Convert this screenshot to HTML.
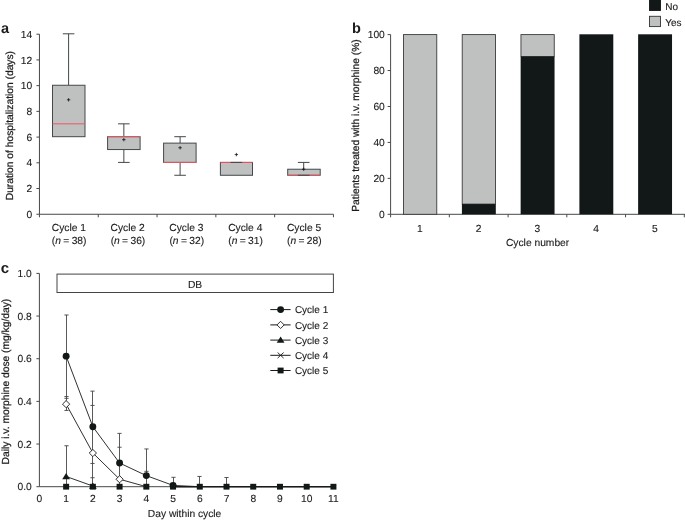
<!DOCTYPE html><html><head><meta charset="utf-8"><style>
html,body{margin:0;padding:0;background:#fff;overflow:hidden;}
svg{position:absolute;left:0;top:0;display:block;font-family:"Liberation Sans",sans-serif;text-rendering:geometricPrecision;will-change:transform;filter:opacity(1);}
</style></head><body>
<svg width="685" height="522" viewBox="0 0 685 522">
<rect width="685" height="522" fill="#fff"/>
<g font-size="10.25" fill="#1c1c1c">
<text x="0.9" y="32.9" font-size="14.5" font-weight="bold">a</text>
<line x1="39.45" y1="34.21" x2="39.45" y2="214.25" stroke="#45494b" stroke-width="1"/>
<line x1="39.45" y1="214.25" x2="333.45" y2="214.25" stroke="#45494b" stroke-width="1"/>
<line x1="36.45" y1="214.25" x2="39.45" y2="214.25" stroke="#45494b" stroke-width="1"/>
<text x="32.15" y="217.85" text-anchor="end" stroke="#1c1c1c" stroke-width="0.12" >0</text>
<line x1="36.45" y1="188.53" x2="39.45" y2="188.53" stroke="#45494b" stroke-width="1"/>
<text x="32.15" y="192.13" text-anchor="end" stroke="#1c1c1c" stroke-width="0.12" >2</text>
<line x1="36.45" y1="162.81" x2="39.45" y2="162.81" stroke="#45494b" stroke-width="1"/>
<text x="32.15" y="166.41" text-anchor="end" stroke="#1c1c1c" stroke-width="0.12" >4</text>
<line x1="36.45" y1="137.09" x2="39.45" y2="137.09" stroke="#45494b" stroke-width="1"/>
<text x="32.15" y="140.69" text-anchor="end" stroke="#1c1c1c" stroke-width="0.12" >6</text>
<line x1="36.45" y1="111.37" x2="39.45" y2="111.37" stroke="#45494b" stroke-width="1"/>
<text x="32.15" y="114.97" text-anchor="end" stroke="#1c1c1c" stroke-width="0.12" >8</text>
<line x1="36.45" y1="85.65" x2="39.45" y2="85.65" stroke="#45494b" stroke-width="1"/>
<text x="32.15" y="89.25" text-anchor="end" stroke="#1c1c1c" stroke-width="0.12" >10</text>
<line x1="36.45" y1="59.93" x2="39.45" y2="59.93" stroke="#45494b" stroke-width="1"/>
<text x="32.15" y="63.53" text-anchor="end" stroke="#1c1c1c" stroke-width="0.12" >12</text>
<line x1="36.45" y1="34.21" x2="39.45" y2="34.21" stroke="#45494b" stroke-width="1"/>
<text x="32.15" y="37.81" text-anchor="end" stroke="#1c1c1c" stroke-width="0.12" >14</text>
<line x1="39.45" y1="214.25" x2="39.45" y2="217.25" stroke="#45494b" stroke-width="1"/>
<line x1="98.25" y1="214.25" x2="98.25" y2="217.25" stroke="#45494b" stroke-width="1"/>
<line x1="157.05" y1="214.25" x2="157.05" y2="217.25" stroke="#45494b" stroke-width="1"/>
<line x1="215.85" y1="214.25" x2="215.85" y2="217.25" stroke="#45494b" stroke-width="1"/>
<line x1="274.65" y1="214.25" x2="274.65" y2="217.25" stroke="#45494b" stroke-width="1"/>
<line x1="333.45" y1="214.25" x2="333.45" y2="217.25" stroke="#45494b" stroke-width="1"/>
<text x="68.85" y="231.40" text-anchor="middle" stroke="#1c1c1c" stroke-width="0.12" >Cycle 1</text>
<text x="69.15" y="244.20" text-anchor="middle" stroke="#1c1c1c" stroke-width="0.12" word-spacing="-0.5">(<tspan font-style="italic">n</tspan> = 38)</text>
<text x="127.65" y="231.40" text-anchor="middle" stroke="#1c1c1c" stroke-width="0.12" >Cycle 2</text>
<text x="127.95" y="244.20" text-anchor="middle" stroke="#1c1c1c" stroke-width="0.12" word-spacing="-0.5">(<tspan font-style="italic">n</tspan> = 36)</text>
<text x="186.45" y="231.40" text-anchor="middle" stroke="#1c1c1c" stroke-width="0.12" >Cycle 3</text>
<text x="186.75" y="244.20" text-anchor="middle" stroke="#1c1c1c" stroke-width="0.12" word-spacing="-0.5">(<tspan font-style="italic">n</tspan> = 32)</text>
<text x="245.25" y="231.40" text-anchor="middle" stroke="#1c1c1c" stroke-width="0.12" >Cycle 4</text>
<text x="245.55" y="244.20" text-anchor="middle" stroke="#1c1c1c" stroke-width="0.12" word-spacing="-0.5">(<tspan font-style="italic">n</tspan> = 31)</text>
<text x="304.05" y="231.40" text-anchor="middle" stroke="#1c1c1c" stroke-width="0.12" >Cycle 5</text>
<text x="304.35" y="244.20" text-anchor="middle" stroke="#1c1c1c" stroke-width="0.12" word-spacing="-0.5">(<tspan font-style="italic">n</tspan> = 28)</text>
<text transform="translate(13.00,125.60) rotate(-90)" text-anchor="middle" stroke="#1c1c1c" stroke-width="0.25">Duration of hospitalization (days)</text>
<line x1="68.60" y1="33.81" x2="68.60" y2="85.25" stroke="#44484a" stroke-width="1"/>
<line x1="62.80" y1="33.81" x2="74.40" y2="33.81" stroke="#44484a" stroke-width="1"/>
<rect x="52.50" y="85.25" width="32.50" height="51.44" fill="#bfc1c0" stroke="#44484a" stroke-width="1"/>
<line x1="52.50" y1="123.83" x2="85.00" y2="123.83" stroke="#ee5560" stroke-width="1"/>
<line x1="66.90" y1="99.80" x2="70.30" y2="99.80" stroke="#111" stroke-width="0.8"/>
<line x1="68.60" y1="98.10" x2="68.60" y2="101.50" stroke="#111" stroke-width="0.8"/>
<line x1="123.85" y1="123.83" x2="123.85" y2="136.69" stroke="#44484a" stroke-width="1"/>
<line x1="118.05" y1="123.83" x2="129.65" y2="123.83" stroke="#44484a" stroke-width="1"/>
<line x1="123.85" y1="162.41" x2="123.85" y2="149.55" stroke="#44484a" stroke-width="1"/>
<line x1="118.05" y1="162.41" x2="129.65" y2="162.41" stroke="#44484a" stroke-width="1"/>
<rect x="107.60" y="136.69" width="32.50" height="12.86" fill="#bfc1c0" stroke="#44484a" stroke-width="1"/>
<line x1="107.60" y1="136.69" x2="140.10" y2="136.69" stroke="#ee5560" stroke-width="1"/>
<line x1="122.15" y1="139.66" x2="125.55" y2="139.66" stroke="#111" stroke-width="0.8"/>
<line x1="123.85" y1="137.96" x2="123.85" y2="141.36" stroke="#111" stroke-width="0.8"/>
<line x1="180.10" y1="136.69" x2="180.10" y2="143.12" stroke="#44484a" stroke-width="1"/>
<line x1="174.30" y1="136.69" x2="185.90" y2="136.69" stroke="#44484a" stroke-width="1"/>
<line x1="180.10" y1="175.27" x2="180.10" y2="162.41" stroke="#44484a" stroke-width="1"/>
<line x1="174.30" y1="175.27" x2="185.90" y2="175.27" stroke="#44484a" stroke-width="1"/>
<rect x="163.60" y="143.12" width="32.50" height="19.29" fill="#bfc1c0" stroke="#44484a" stroke-width="1"/>
<line x1="163.60" y1="162.41" x2="196.10" y2="162.41" stroke="#ee5560" stroke-width="1"/>
<line x1="178.40" y1="147.76" x2="181.80" y2="147.76" stroke="#111" stroke-width="0.8"/>
<line x1="180.10" y1="146.06" x2="180.10" y2="149.46" stroke="#111" stroke-width="0.8"/>
<rect x="220.40" y="162.41" width="32.10" height="12.86" fill="#bfc1c0" stroke="#44484a" stroke-width="1"/>
<line x1="220.40" y1="162.41" x2="252.50" y2="162.41" stroke="#ee5560" stroke-width="1"/>
<line x1="230.60" y1="162.41" x2="242.20" y2="162.41" stroke="#44484a" stroke-width="1"/>
<line x1="234.70" y1="154.58" x2="238.10" y2="154.58" stroke="#111" stroke-width="0.8"/>
<line x1="236.40" y1="152.88" x2="236.40" y2="156.28" stroke="#111" stroke-width="0.8"/>
<line x1="303.70" y1="162.41" x2="303.70" y2="169.23" stroke="#44484a" stroke-width="1"/>
<line x1="297.90" y1="162.41" x2="309.50" y2="162.41" stroke="#44484a" stroke-width="1"/>
<rect x="287.70" y="169.23" width="32.50" height="6.04" fill="#bfc1c0" stroke="#44484a" stroke-width="1"/>
<line x1="287.70" y1="175.27" x2="320.20" y2="175.27" stroke="#ee5560" stroke-width="1"/>
<line x1="297.90" y1="175.27" x2="309.50" y2="175.27" stroke="#44484a" stroke-width="1"/>
<line x1="302.00" y1="169.24" x2="305.40" y2="169.24" stroke="#111" stroke-width="0.8"/>
<line x1="303.70" y1="167.54" x2="303.70" y2="170.94" stroke="#111" stroke-width="0.8"/>
<text x="351.9" y="32.9" font-size="14.5" font-weight="bold">b</text>
<line x1="390.60" y1="34.60" x2="390.60" y2="214.30" stroke="#45494b" stroke-width="1"/>
<line x1="390.60" y1="214.30" x2="685.00" y2="214.30" stroke="#45494b" stroke-width="1"/>
<line x1="387.60" y1="214.30" x2="390.60" y2="214.30" stroke="#45494b" stroke-width="1"/>
<text x="384.80" y="217.70" text-anchor="end" stroke="#1c1c1c" stroke-width="0.12" >0</text>
<line x1="387.60" y1="178.36" x2="390.60" y2="178.36" stroke="#45494b" stroke-width="1"/>
<text x="384.80" y="181.76" text-anchor="end" stroke="#1c1c1c" stroke-width="0.12" >20</text>
<line x1="387.60" y1="142.42" x2="390.60" y2="142.42" stroke="#45494b" stroke-width="1"/>
<text x="384.80" y="145.82" text-anchor="end" stroke="#1c1c1c" stroke-width="0.12" >40</text>
<line x1="387.60" y1="106.48" x2="390.60" y2="106.48" stroke="#45494b" stroke-width="1"/>
<text x="384.80" y="109.88" text-anchor="end" stroke="#1c1c1c" stroke-width="0.12" >60</text>
<line x1="387.60" y1="70.54" x2="390.60" y2="70.54" stroke="#45494b" stroke-width="1"/>
<text x="384.80" y="73.94" text-anchor="end" stroke="#1c1c1c" stroke-width="0.12" >80</text>
<line x1="387.60" y1="34.60" x2="390.60" y2="34.60" stroke="#45494b" stroke-width="1"/>
<text x="384.80" y="38.00" text-anchor="end" stroke="#1c1c1c" stroke-width="0.12" >100</text>
<line x1="390.60" y1="214.30" x2="390.60" y2="217.30" stroke="#45494b" stroke-width="1"/>
<line x1="449.34" y1="214.30" x2="449.34" y2="217.30" stroke="#45494b" stroke-width="1"/>
<line x1="508.08" y1="214.30" x2="508.08" y2="217.30" stroke="#45494b" stroke-width="1"/>
<line x1="566.82" y1="214.30" x2="566.82" y2="217.30" stroke="#45494b" stroke-width="1"/>
<line x1="625.56" y1="214.30" x2="625.56" y2="217.30" stroke="#45494b" stroke-width="1"/>
<line x1="684.30" y1="214.30" x2="684.30" y2="217.30" stroke="#45494b" stroke-width="1"/>
<rect x="403.47" y="34.60" width="33.3" height="179.70" fill="#bfc1c0" stroke="#3a3a3a" stroke-width="0.9"/>
<text x="419.97" y="231.60" text-anchor="middle" stroke="#1c1c1c" stroke-width="0.12" >1</text>
<rect x="462.21" y="34.60" width="33.3" height="169.46" fill="#bfc1c0" stroke="#3a3a3a" stroke-width="0.9"/>
<rect x="461.91" y="204.06" width="33.90" height="10.24" fill="#121817"/>
<text x="478.71" y="231.60" text-anchor="middle" stroke="#1c1c1c" stroke-width="0.12" >2</text>
<rect x="520.95" y="34.60" width="33.3" height="21.92" fill="#bfc1c0" stroke="#3a3a3a" stroke-width="0.9"/>
<rect x="520.65" y="56.52" width="33.90" height="157.78" fill="#121817"/>
<text x="537.45" y="231.60" text-anchor="middle" stroke="#1c1c1c" stroke-width="0.12" >3</text>
<rect x="579.39" y="34.30" width="33.90" height="180.00" fill="#121817"/>
<text x="596.19" y="231.60" text-anchor="middle" stroke="#1c1c1c" stroke-width="0.12" >4</text>
<rect x="638.13" y="34.30" width="33.90" height="180.00" fill="#121817"/>
<text x="654.93" y="231.60" text-anchor="middle" stroke="#1c1c1c" stroke-width="0.12" >5</text>
<text x="537.60" y="246.20" text-anchor="middle" stroke="#1c1c1c" stroke-width="0.12" >Cycle number</text>
<text transform="translate(359.30,125.50) rotate(-90)" text-anchor="middle" stroke="#1c1c1c" stroke-width="0.25">Patients treated with i.v. morphine (%)</text>
<rect x="649.5" y="-0.5" width="11" height="11" fill="#121817" stroke="#121817" stroke-width="0.9"/>
<rect x="649.5" y="16.3" width="11" height="10.3" fill="#bfc1c0" stroke="#333" stroke-width="0.9"/>
<text x="665.20" y="9.90" text-anchor="start" stroke="#1c1c1c" stroke-width="0.12" font-size="10">No</text>
<text x="665.20" y="25.90" text-anchor="start" stroke="#1c1c1c" stroke-width="0.12" font-size="10">Yes</text>
<text x="0.8" y="273.4" font-size="15" font-weight="bold">c</text>
<line x1="39.40" y1="273.40" x2="39.40" y2="486.70" stroke="#45494b" stroke-width="1"/>
<line x1="39.40" y1="486.70" x2="333.43" y2="486.70" stroke="#45494b" stroke-width="1"/>
<line x1="36.40" y1="486.70" x2="39.40" y2="486.70" stroke="#45494b" stroke-width="1"/>
<text x="31.70" y="490.40" text-anchor="end" stroke="#1c1c1c" stroke-width="0.12" >0.0</text>
<line x1="36.40" y1="444.04" x2="39.40" y2="444.04" stroke="#45494b" stroke-width="1"/>
<text x="31.70" y="447.74" text-anchor="end" stroke="#1c1c1c" stroke-width="0.12" >0.2</text>
<line x1="36.40" y1="401.38" x2="39.40" y2="401.38" stroke="#45494b" stroke-width="1"/>
<text x="31.70" y="405.08" text-anchor="end" stroke="#1c1c1c" stroke-width="0.12" >0.4</text>
<line x1="36.40" y1="358.72" x2="39.40" y2="358.72" stroke="#45494b" stroke-width="1"/>
<text x="31.70" y="362.42" text-anchor="end" stroke="#1c1c1c" stroke-width="0.12" >0.6</text>
<line x1="36.40" y1="316.06" x2="39.40" y2="316.06" stroke="#45494b" stroke-width="1"/>
<text x="31.70" y="319.76" text-anchor="end" stroke="#1c1c1c" stroke-width="0.12" >0.8</text>
<line x1="36.40" y1="273.40" x2="39.40" y2="273.40" stroke="#45494b" stroke-width="1"/>
<text x="31.70" y="277.10" text-anchor="end" stroke="#1c1c1c" stroke-width="0.12" >1.0</text>
<text x="39.40" y="502.30" text-anchor="middle" stroke="#1c1c1c" stroke-width="0.12" >0</text>
<text x="66.13" y="502.30" text-anchor="middle" stroke="#1c1c1c" stroke-width="0.12" >1</text>
<text x="92.86" y="502.30" text-anchor="middle" stroke="#1c1c1c" stroke-width="0.12" >2</text>
<text x="119.59" y="502.30" text-anchor="middle" stroke="#1c1c1c" stroke-width="0.12" >3</text>
<text x="146.32" y="502.30" text-anchor="middle" stroke="#1c1c1c" stroke-width="0.12" >4</text>
<text x="173.05" y="502.30" text-anchor="middle" stroke="#1c1c1c" stroke-width="0.12" >5</text>
<text x="199.78" y="502.30" text-anchor="middle" stroke="#1c1c1c" stroke-width="0.12" >6</text>
<text x="226.51" y="502.30" text-anchor="middle" stroke="#1c1c1c" stroke-width="0.12" >7</text>
<text x="253.24" y="502.30" text-anchor="middle" stroke="#1c1c1c" stroke-width="0.12" >8</text>
<text x="279.97" y="502.30" text-anchor="middle" stroke="#1c1c1c" stroke-width="0.12" >9</text>
<text x="306.70" y="502.30" text-anchor="middle" stroke="#1c1c1c" stroke-width="0.12" >10</text>
<text x="333.43" y="502.30" text-anchor="middle" stroke="#1c1c1c" stroke-width="0.12" >11</text>
<text x="184.60" y="516.80" text-anchor="middle" stroke="#1c1c1c" stroke-width="0.12" >Day within cycle</text>
<text transform="translate(8.80,381.60) rotate(-90)" text-anchor="middle" stroke="#1c1c1c" stroke-width="0.25">Daily i.v. morphine dose (mg/kg/day)</text>
<rect x="57.0" y="274.1" width="276.4" height="18.4" fill="#fff" stroke="#444" stroke-width="1"/>
<text x="195.10" y="287.80" text-anchor="middle" stroke="#1c1c1c" stroke-width="0.12" >DB</text>
<line x1="66.50" y1="410.45" x2="66.50" y2="314.99" stroke="#5a5a5a" stroke-width="1"/>
<line x1="64.40" y1="410.45" x2="68.60" y2="410.45" stroke="#444" stroke-width="0.9"/>
<line x1="64.40" y1="398.33" x2="68.60" y2="398.33" stroke="#444" stroke-width="0.9"/>
<line x1="64.40" y1="396.54" x2="68.60" y2="396.54" stroke="#444" stroke-width="0.9"/>
<line x1="64.40" y1="314.99" x2="68.60" y2="314.99" stroke="#444" stroke-width="0.9"/>
<line x1="66.50" y1="486.70" x2="66.50" y2="445.75" stroke="#5a5a5a" stroke-width="1"/>
<line x1="64.40" y1="445.75" x2="68.60" y2="445.75" stroke="#444" stroke-width="0.9"/>
<line x1="92.50" y1="486.70" x2="92.50" y2="391.14" stroke="#5a5a5a" stroke-width="1"/>
<line x1="90.40" y1="391.14" x2="94.60" y2="391.14" stroke="#444" stroke-width="0.9"/>
<line x1="90.40" y1="405.43" x2="94.60" y2="405.43" stroke="#444" stroke-width="0.9"/>
<line x1="90.40" y1="463.45" x2="94.60" y2="463.45" stroke="#444" stroke-width="0.9"/>
<line x1="90.40" y1="477.74" x2="94.60" y2="477.74" stroke="#444" stroke-width="0.9"/>
<line x1="119.50" y1="486.70" x2="119.50" y2="433.38" stroke="#5a5a5a" stroke-width="1"/>
<line x1="117.40" y1="433.38" x2="121.60" y2="433.38" stroke="#444" stroke-width="0.9"/>
<line x1="117.40" y1="447.24" x2="121.60" y2="447.24" stroke="#444" stroke-width="0.9"/>
<line x1="146.50" y1="486.70" x2="146.50" y2="448.95" stroke="#5a5a5a" stroke-width="1"/>
<line x1="144.40" y1="448.95" x2="148.60" y2="448.95" stroke="#444" stroke-width="0.9"/>
<line x1="144.40" y1="471.34" x2="148.60" y2="471.34" stroke="#444" stroke-width="0.9"/>
<line x1="173.50" y1="486.70" x2="173.50" y2="477.31" stroke="#5a5a5a" stroke-width="1"/>
<line x1="171.40" y1="477.31" x2="175.60" y2="477.31" stroke="#444" stroke-width="0.9"/>
<line x1="199.50" y1="486.70" x2="199.50" y2="476.46" stroke="#5a5a5a" stroke-width="1"/>
<line x1="197.40" y1="476.46" x2="201.60" y2="476.46" stroke="#444" stroke-width="0.9"/>
<line x1="226.50" y1="486.70" x2="226.50" y2="477.53" stroke="#5a5a5a" stroke-width="1"/>
<line x1="224.40" y1="477.53" x2="228.60" y2="477.53" stroke="#444" stroke-width="0.9"/>
<polyline points="66.13,356.16 92.86,426.76 119.59,463.02 146.32,475.61 173.05,485.42 199.78,486.70" fill="none" stroke="#1a1a1a" stroke-width="0.9"/>
<polyline points="66.13,404.15 92.86,453.00 119.59,479.23 146.32,486.70" fill="none" stroke="#1a1a1a" stroke-width="0.9"/>
<polyline points="66.13,476.46 92.86,486.06" fill="none" stroke="#1a1a1a" stroke-width="0.9"/>
<line x1="173.05" y1="486.70" x2="333.43" y2="486.70" stroke="#1a1a1a" stroke-width="1.6"/>
<circle cx="66.13" cy="356.16" r="3.45" fill="#121817"/>
<circle cx="92.86" cy="426.76" r="3.45" fill="#121817"/>
<circle cx="119.59" cy="463.02" r="3.45" fill="#121817"/>
<circle cx="146.32" cy="475.61" r="3.45" fill="#121817"/>
<circle cx="173.05" cy="485.42" r="3.45" fill="#121817"/>
<path d="M62.53,404.15 L66.13,400.55 L69.73,404.15 L66.13,407.75 Z" fill="#fff" stroke="#1a1a1a" stroke-width="0.9"/>
<path d="M89.26,453.00 L92.86,449.40 L96.46,453.00 L92.86,456.60 Z" fill="#fff" stroke="#1a1a1a" stroke-width="0.9"/>
<path d="M115.99,479.23 L119.59,475.63 L123.19,479.23 L119.59,482.83 Z" fill="#fff" stroke="#1a1a1a" stroke-width="0.9"/>
<path d="M62.23,479.16 L66.13,472.96 L70.03,479.16 Z" fill="#121817"/>
<path d="M88.96,488.76 L92.86,482.56 L96.76,488.76 Z" fill="#121817"/>
<rect x="63.13" y="483.80" width="6.0" height="5.8" fill="#121817"/>
<rect x="89.86" y="483.80" width="6.0" height="5.8" fill="#121817"/>
<rect x="116.59" y="483.80" width="6.0" height="5.8" fill="#121817"/>
<rect x="143.32" y="483.80" width="6.0" height="5.8" fill="#121817"/>
<rect x="170.05" y="483.80" width="6.0" height="5.8" fill="#121817"/>
<rect x="196.78" y="483.80" width="6.0" height="5.8" fill="#121817"/>
<rect x="223.51" y="483.80" width="6.0" height="5.8" fill="#121817"/>
<rect x="250.24" y="483.80" width="6.0" height="5.8" fill="#121817"/>
<rect x="276.97" y="483.80" width="6.0" height="5.8" fill="#121817"/>
<rect x="303.70" y="483.80" width="6.0" height="5.8" fill="#121817"/>
<rect x="330.43" y="483.80" width="6.0" height="5.8" fill="#121817"/>
<line x1="270.30" y1="309.60" x2="290.60" y2="309.60" stroke="#1a1a1a" stroke-width="1"/>
<circle cx="280.60" cy="309.60" r="3.45" fill="#121817"/>
<text x="294.90" y="313.20" text-anchor="start" stroke="#1c1c1c" stroke-width="0.12" font-size="10">Cycle 1</text>
<line x1="270.30" y1="324.90" x2="290.60" y2="324.90" stroke="#1a1a1a" stroke-width="1"/>
<path d="M277.00,324.90 L280.60,321.30 L284.20,324.90 L280.60,328.50 Z" fill="#fff" stroke="#1a1a1a" stroke-width="0.9"/>
<text x="294.90" y="328.50" text-anchor="start" stroke="#1c1c1c" stroke-width="0.12" font-size="10">Cycle 2</text>
<line x1="270.30" y1="340.10" x2="290.60" y2="340.10" stroke="#1a1a1a" stroke-width="1"/>
<path d="M276.70,342.80 L280.60,336.60 L284.50,342.80 Z" fill="#121817"/>
<text x="294.90" y="343.70" text-anchor="start" stroke="#1c1c1c" stroke-width="0.12" font-size="10">Cycle 3</text>
<line x1="270.30" y1="355.30" x2="290.60" y2="355.30" stroke="#1a1a1a" stroke-width="1"/>
<line x1="277.60" y1="352.50" x2="283.60" y2="358.10" stroke="#1a1a1a" stroke-width="0.9"/>
<line x1="277.60" y1="358.10" x2="283.60" y2="352.50" stroke="#1a1a1a" stroke-width="0.9"/>
<text x="294.90" y="358.90" text-anchor="start" stroke="#1c1c1c" stroke-width="0.12" font-size="10">Cycle 4</text>
<line x1="270.30" y1="370.50" x2="290.60" y2="370.50" stroke="#1a1a1a" stroke-width="1"/>
<rect x="277.60" y="367.60" width="6.0" height="5.8" fill="#121817"/>
<text x="294.90" y="374.10" text-anchor="start" stroke="#1c1c1c" stroke-width="0.12" font-size="10">Cycle 5</text>
</g></svg></body></html>
